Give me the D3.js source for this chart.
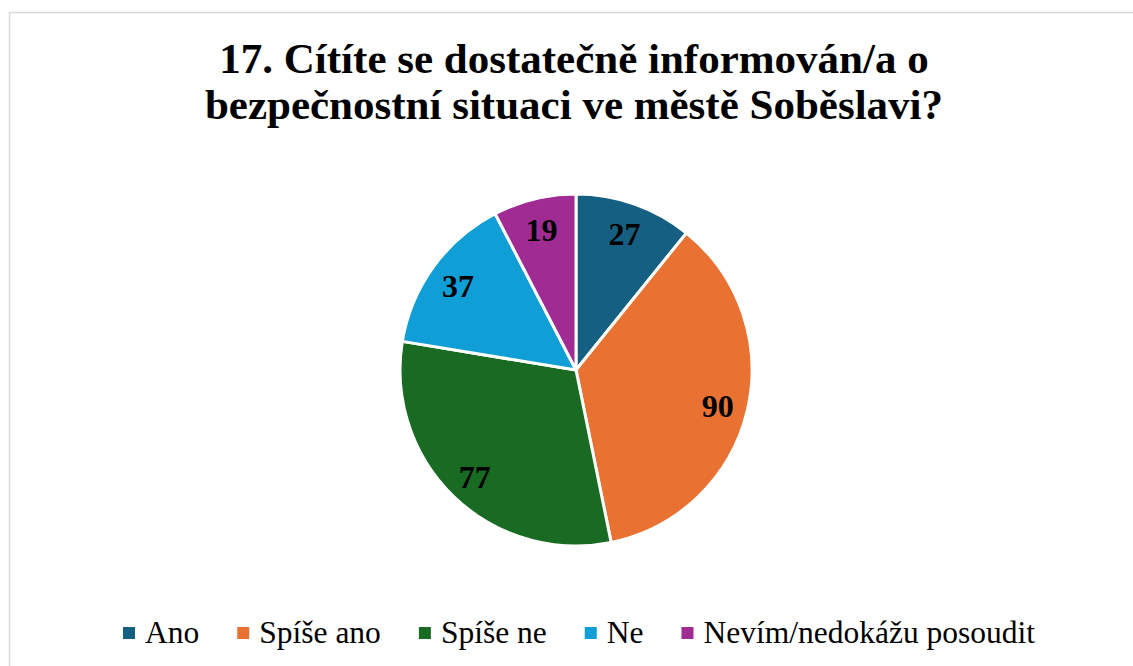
<!DOCTYPE html>
<html>
<head>
<meta charset="utf-8">
<script src="https://cdn.jsdelivr.net/npm/d3@7"></script>
<style>
  body { margin: 0; background: #fff; }
  svg { display: block; }
  svg text { font-family: "Liberation Serif", "Times New Roman", serif; }
</style>
</head>
<body>
<div id="chart"></div>
<script>
// data
var categories = ["Ano", "Spíše ano", "Spíše ne", "Ne", "Nevím/nedokážu posoudit"];
var values = [27, 90, 77, 37, 19];
var colors = ["#156082", "#E97132", "#196B24", "#0F9ED5", "#A02B93"];
var titleLines = ["17. Cítíte se dostatečně informován/a o", "bezpečnostní situaci ve městě Soběslavi?"];

var width = 1133, height = 666;
var cx = 576, cy = 370, radius = 176;

var svg = d3.select("#chart")
    .append("svg")
    .attr("width", width)
    .attr("height", height);

// chart frame
svg.append("rect")
    .attr("x", 9.5)
    .attr("y", 12.5)
    .attr("width", 1140)
    .attr("height", 700)
    .attr("fill", "#fff")
    .attr("stroke", "#d9d9d9")
    .attr("stroke-width", 1.5);

// title
svg.append("text")
    .attr("x", 574)
    .attr("y", 73)
    .attr("text-anchor", "middle")
    .attr("font-weight", "bold")
    .attr("font-size", 43)
    .selectAll("tspan")
    .data(titleLines)
    .enter()
    .append("tspan")
    .attr("x", 574)
    .attr("dy", function (d, i) { return i === 0 ? 0 : 46; })
    .text(function (d) { return d; });

var color = d3.scaleOrdinal().domain(categories).range(colors);

var pie = d3.pie().sort(null).value(function (d) { return d.value; });
var arc = d3.arc().innerRadius(0).outerRadius(radius);
var labelArc = d3.arc().innerRadius(146).outerRadius(146);

var data = categories.map(function (c, i) { return { name: c, value: values[i] }; });

var g = svg.append("g").attr("transform", "translate(" + cx + "," + cy + ")");

var slices = g.selectAll(".slice")
    .data(pie(data))
    .enter()
    .append("g")
    .attr("class", "slice");

slices.append("path")
    .attr("d", arc)
    .attr("fill", function (d) { return color(d.data.name); })
    .attr("stroke", "#fff")
    .attr("stroke-width", 3);

slices.append("text")
    .attr("transform", function (d) { return "translate(" + labelArc.centroid(d) + ")"; })
    .attr("dy", "0.4em")
    .attr("text-anchor", "middle")
    .attr("font-weight", "bold")
    .attr("font-size", 32)
    .attr("fill", "#000")
    .text(function (d) { return d.data.value; });

// legend
var legend = svg.append("g");
var lx = 123;
categories.forEach(function (c, i) {
    var item = legend.append("g").attr("transform", "translate(" + lx + ",0)");
    item.append("rect")
        .attr("x", 0)
        .attr("y", 627)
        .attr("width", 12)
        .attr("height", 12)
        .attr("fill", color(c));
    var t = item.append("text")
        .attr("x", 22)
        .attr("y", 643)
        .attr("font-size", 31.5)
        .attr("fill", "#000")
        .text(c);
    lx += 22 + t.node().getComputedTextLength() + 38;
});
</script>
</body>
</html>
